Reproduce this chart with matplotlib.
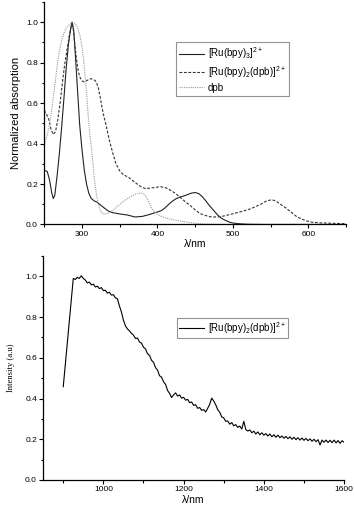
import matplotlib
matplotlib.use("Agg")
import matplotlib.pyplot as plt
from matplotlib.ticker import MultipleLocator

plt.rcParams['font.family'] = ['Liberation Sans', 'DejaVu Sans']
plt.rcParams['mathtext.fontset'] = 'custom'
plt.rcParams['mathtext.rm'] = 'Liberation Sans'
plt.rcParams['mathtext.it'] = 'Liberation Sans'

# absorption spectra (normalized)
ru3_wl = [250, 254, 257, 260, 262, 264, 267, 270, 273, 276, 279, 282, 285, 287, 289,
          291, 293, 295, 297, 300, 303, 306, 309, 312, 316, 320, 325, 330, 335, 340,
          350, 360, 370, 380, 390, 400, 405, 410, 415, 420, 425, 430, 435, 440, 445,
          450, 455, 460, 465, 470, 475, 480, 485, 490, 495, 500, 510, 520, 540, 560,
          600, 650]
ru3_abs = [0.268, 0.262, 0.22, 0.155, 0.128, 0.145, 0.24, 0.35, 0.48, 0.62, 0.77, 0.89,
           0.97, 1.0, 0.96, 0.85, 0.73, 0.61, 0.49, 0.37, 0.27, 0.2, 0.155, 0.13, 0.117,
           0.11, 0.095, 0.08, 0.066, 0.059, 0.052, 0.047, 0.037, 0.04, 0.05, 0.062,
           0.068, 0.082, 0.1, 0.116, 0.128, 0.136, 0.141, 0.148, 0.155, 0.158, 0.152,
           0.135, 0.112, 0.088, 0.067, 0.046, 0.03, 0.02, 0.012, 0.007, 0.003, 0.001,
           0.0, 0.0, 0.0, 0.0]

dpbc_wl = [250, 253, 256, 259, 262, 265, 268, 271, 274, 277, 280, 283, 286, 287, 289,
           291, 293, 295, 297, 300, 303, 306, 310, 313, 316, 319, 322, 325, 328, 332,
           336, 341, 345, 350, 355, 361, 366, 372, 378, 384, 390, 395, 400, 405, 410,
           416, 422, 430, 436, 443, 450, 456, 463, 470, 476, 483, 490, 500, 510, 518,
           525, 531, 537, 542, 546, 550, 554, 558, 564, 571, 578, 584, 590, 597, 605,
           615, 630, 650]
dpbc_abs = [0.565, 0.545, 0.52, 0.47, 0.445, 0.46, 0.52, 0.6, 0.7, 0.79, 0.86, 0.93,
            0.985, 1.0, 0.95, 0.87, 0.81, 0.76, 0.73, 0.71, 0.705, 0.71, 0.72, 0.72,
            0.715, 0.705, 0.67, 0.61, 0.55, 0.49, 0.42, 0.35, 0.3, 0.265, 0.245, 0.235,
            0.22, 0.203, 0.187, 0.177, 0.18, 0.182, 0.185, 0.186, 0.183, 0.172, 0.158,
            0.135, 0.115, 0.095, 0.072, 0.055, 0.045, 0.038, 0.037, 0.038, 0.044, 0.053,
            0.063, 0.071, 0.08, 0.09, 0.1, 0.112, 0.118, 0.121, 0.12, 0.113, 0.097,
            0.079, 0.058, 0.04, 0.028, 0.018, 0.011, 0.008, 0.006, 0.004]

dpb_wl = [250, 253, 256, 259, 262, 265, 268, 271, 274, 277, 280, 284, 288, 291, 294,
          297, 300, 302, 304, 306, 308, 310, 313, 316, 319, 322, 325, 328, 332, 336,
          341, 347, 354, 361, 368, 374, 379, 383, 386, 389, 392, 396, 400, 405, 410,
          420, 430, 440, 450, 460, 475, 490, 520, 560, 600, 650]
dpb_abs = [0.397, 0.43, 0.475, 0.545, 0.63, 0.72, 0.81, 0.875, 0.925, 0.955, 0.977,
           0.99, 1.0, 0.995, 0.975, 0.94, 0.88, 0.82, 0.746, 0.65, 0.549, 0.46, 0.36,
           0.24, 0.15, 0.095, 0.062, 0.052, 0.053, 0.058, 0.07, 0.09, 0.112, 0.13,
           0.145, 0.153, 0.156, 0.148, 0.132, 0.108, 0.082, 0.062, 0.05, 0.04, 0.033,
           0.024, 0.017, 0.011, 0.006, 0.003, 0.001, 0.0, 0.0, 0.0, 0.0, 0.0]

# emission spectrum
em_wl = [900, 925, 930, 935, 940, 945, 950, 955, 960, 965, 970, 975, 980, 985, 990, 995,
         1000, 1005, 1010, 1015, 1020, 1025, 1030, 1035, 1040, 1045, 1050, 1055, 1060,
         1065, 1070, 1075, 1080, 1085, 1090, 1095, 1100, 1105, 1110, 1115, 1120, 1125,
         1130, 1135, 1140, 1145, 1150, 1155, 1160, 1165, 1170, 1175, 1180, 1185, 1190,
         1195, 1200, 1205, 1210, 1215, 1220, 1225, 1230, 1235, 1240, 1245, 1250, 1255,
         1260, 1265, 1270, 1275, 1280, 1285, 1290, 1295, 1300, 1305, 1310, 1315, 1320,
         1325, 1330, 1335, 1340, 1345, 1350, 1355, 1360, 1365, 1370, 1375, 1380, 1385,
         1390, 1395, 1400, 1405, 1410, 1415, 1420, 1425, 1430, 1435, 1440, 1445, 1450,
         1455, 1460, 1465, 1470, 1475, 1480, 1485, 1490, 1495, 1500, 1505, 1510, 1515,
         1520, 1525, 1530, 1535, 1540, 1545, 1550, 1555, 1560, 1565, 1570, 1575, 1580,
         1585, 1590, 1595, 1600]
em_int = [0.458, 0.99, 0.985, 0.995, 0.99, 1.003, 0.99, 0.982, 0.968, 0.972, 0.958, 0.962,
          0.948, 0.952, 0.94, 0.945, 0.93, 0.932, 0.918, 0.922, 0.908, 0.91, 0.895, 0.89,
          0.855, 0.825, 0.785, 0.757, 0.742, 0.732, 0.72, 0.712, 0.695, 0.697, 0.678,
          0.672, 0.652, 0.644, 0.62, 0.612, 0.588, 0.578, 0.552, 0.54, 0.512, 0.505,
          0.482, 0.47, 0.44, 0.425, 0.405, 0.418, 0.428, 0.412, 0.418, 0.402, 0.406,
          0.392, 0.396, 0.38, 0.383, 0.366, 0.37, 0.352, 0.356, 0.342, 0.346, 0.334,
          0.352, 0.372, 0.402, 0.388, 0.37, 0.345, 0.333, 0.31, 0.305, 0.288, 0.29,
          0.274, 0.282, 0.266, 0.272, 0.258, 0.265, 0.25, 0.288, 0.248, 0.24, 0.246,
          0.232, 0.24, 0.226, 0.236, 0.222, 0.232, 0.22, 0.228, 0.216, 0.226, 0.212,
          0.222, 0.21, 0.22, 0.208, 0.216, 0.205, 0.214, 0.203, 0.212, 0.2, 0.21, 0.198,
          0.208, 0.196, 0.206, 0.195, 0.204, 0.193, 0.202, 0.19, 0.2, 0.188, 0.198, 0.172,
          0.196, 0.185, 0.196, 0.184, 0.195, 0.183, 0.196, 0.182, 0.194, 0.18, 0.193,
          0.185]

lbl_ru3 = r'[Ru(bpy)$_3$]$^{2+}$'
lbl_ru2 = r'[Ru(bpy)$_2$(dpb)]$^{2+}$'
lbl_dpb = 'dpb'

fig = plt.figure(figsize=(3.54, 5.09), dpi=100)
ax1 = fig.add_axes([0.125, 0.559, 0.853, 0.437])
ax2 = fig.add_axes([0.122, 0.057, 0.850, 0.440])

ax1.plot(ru3_wl, ru3_abs, color='#222222', lw=0.8, label=lbl_ru3)
ax1.plot(dpbc_wl, dpbc_abs, color='#333333', lw=0.8, dashes=(2.5, 1.5), label=lbl_ru2)
ax1.plot(dpb_wl, dpb_abs, color='#999999', lw=0.8, dashes=(1, 1), label=lbl_dpb)
ax1.set_xlim(250, 650)
ax1.set_ylim(0, 1.1)
ax1.xaxis.set_major_locator(MultipleLocator(100))
ax1.xaxis.set_minor_locator(MultipleLocator(50))
ax1.set_ylabel('Normalized absorption', fontsize=8, labelpad=4)
ax1.set_xlabel('λ/nm', fontsize=7.5, labelpad=1)
leg1 = ax1.legend(loc='upper left', bbox_to_anchor=(0.436, 0.819), borderaxespad=0,
                  fontsize=7, frameon=True, fancybox=False, handlelength=2.6,
                  handletextpad=0.4, labelspacing=0.3, borderpad=0.3)
leg1.get_frame().set_edgecolor('#777777')
leg1.get_frame().set_linewidth(0.8)

ax2.plot(em_wl, em_int, color='black', lw=0.8, label=lbl_ru2)
ax2.set_xlim(850, 1600)
ax2.set_ylim(0, 1.1)
ax2.xaxis.set_major_locator(MultipleLocator(200))
ax2.xaxis.set_minor_locator(MultipleLocator(100))
ax2.set_ylabel('Intensity (a.u)', fontsize=6.2, family='Liberation Serif', labelpad=7)
ax2.set_xlabel('λ/nm', fontsize=7.5, labelpad=1)
leg2 = ax2.legend(loc='upper left', bbox_to_anchor=(0.444, 0.723), borderaxespad=0,
                  fontsize=7, frameon=True, fancybox=False, handlelength=2.6,
                  handletextpad=0.4, borderpad=0.2)
leg2.get_frame().set_edgecolor('#777777')
leg2.get_frame().set_linewidth(0.8)

for ax in (ax1, ax2):
    ax.spines['top'].set_visible(False)
    ax.spines['right'].set_visible(False)
    ax.spines['left'].set_linewidth(0.9)
    ax.spines['bottom'].set_linewidth(0.9)
    ax.yaxis.set_major_locator(MultipleLocator(0.2))
    ax.yaxis.set_minor_locator(MultipleLocator(0.1))
    ax.tick_params(which='major', direction='out', length=3, width=0.8, labelsize=6, pad=1.5)
    ax.tick_params(which='minor', direction='out', length=1.8, width=0.8)
    ax.yaxis.set_major_formatter(matplotlib.ticker.FormatStrFormatter('%.1f'))

fig.savefig('out.png', dpi=100)
